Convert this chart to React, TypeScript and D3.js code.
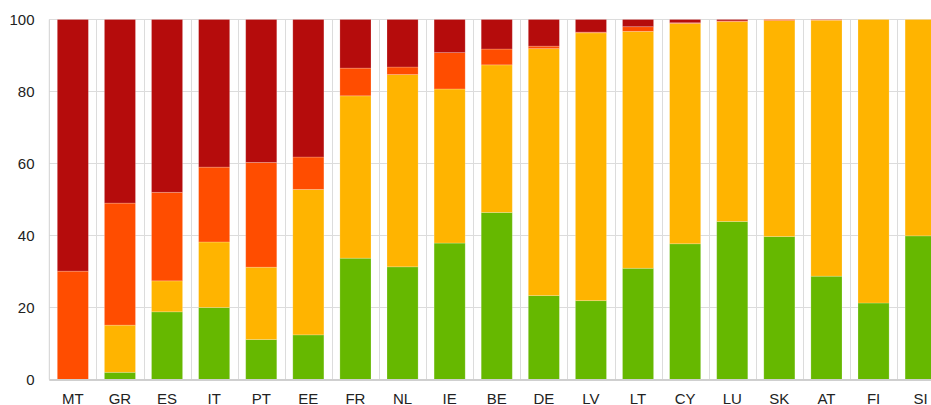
import React from "react";
import * as d3 from "d3";

const categories = ["MT","GR","ES","IT","PT","EE","FR","NL","IE","BE","DE","LV","LT","CY","LU","SK","AT","FI","SI"];
const green =  [0, 2.0, 18.8, 20.0, 11.1, 12.4, 33.7, 31.3, 37.9, 46.4, 23.3, 21.9, 30.9, 37.7, 43.9, 39.7, 28.7, 21.25, 39.9];
const yellow = [0, 13.1, 8.6, 18.2, 20.1, 40.4, 45.1, 53.4, 42.8, 41.0, 68.6, 74.4, 65.8, 61.2, 55.5, 60.0, 71.1, 78.75, 60.1];
const orange = [30.1, 33.9, 24.6, 20.8, 29.1, 9.0, 7.7, 2.1, 10.1, 4.4, 0.7, 0.2, 1.3, 0.2, 0.2, 0.3, 0.1, 0, 0];
const red =    [69.9, 51.0, 48.0, 41.0, 39.7, 38.2, 13.5, 13.2, 9.2, 8.2, 7.4, 3.5, 2.0, 0.9, 0.4, 0, 0.1, 0, 0];
const yTicks = [0, 20, 40, 60, 80, 100];

const seriesKeys = ["green", "yellow", "orange", "red"];
const colors: Record<string, string> = {
  green: "#66b800",
  yellow: "#ffb400",
  orange: "#ff4d00",
  red: "#b50c0c",
};

const W = 931, H = 405;
const left = 49.3, top = 19.5, bottom = 379.5;
const bandStep = 47.1;

export default function App() {
  const rows = categories.map((c, i) => ({ cat: c, green: green[i], yellow: yellow[i], orange: orange[i], red: red[i] }));
  const stack = d3.stack<any>().keys(seriesKeys)(rows);
  const x = d3.scaleBand().domain(categories).range([left, left + bandStep * categories.length]).paddingInner(0.34).paddingOuter(0.17);
  const y = d3.scaleLinear().domain([0, 100]).range([bottom, top]);
  const font = "'Liberation Sans', Arial, sans-serif";
  return (
    <svg width={W} height={H} style={{ position: "absolute", left: 0, top: 0, background: "#fff" }}>
      <g>
        {yTicks.map((t) => (
          <line key={"h" + t} x1={left} x2={W} y1={y(t)} y2={y(t)} stroke="#dcdcdc" strokeWidth={1} />
        ))}
        {categories.map((c, i) => {
          const xx = Math.round(left + bandStep * (i + 1)) + 0.5;
          return <line key={"v" + c} x1={xx} x2={xx} y1={top} y2={bottom} stroke="#dcdcdc" strokeWidth={1} />;
        })}
        <line x1={left} x2={left} y1={top} y2={bottom} stroke="#d0d0d0" strokeWidth={1} />
      </g>
      {stack.map((s) => (
        <g key={s.key} fill={colors[s.key]}>
          {s.map((d, i) => {
            const h = y(d[0]) - y(d[1]);
            if (h <= 0) return null;
            return (
              <rect key={i} x={x(categories[i])} width={x.bandwidth()} y={y(d[1])} height={h}
                stroke="#ffffff" strokeOpacity={0.25} strokeWidth={0.8} />
            );
          })}
        </g>
      ))}
      <line x1={left} x2={W} y1={bottom + 0.5} y2={bottom + 0.5} stroke="#cfcfcf" strokeWidth={2} />
      {yTicks.map((t) => (
        <text key={"yt" + t} x={34.5} y={y(t)} dy="0.35em" textAnchor="end" fontFamily={font} fontSize={15} fill="#222">{t}</text>
      ))}
      {categories.map((c) => (
        <text key={"xt" + c} x={(x(c) as number) + x.bandwidth() / 2} y={403.5} textAnchor="middle" fontFamily={font} fontSize={15} fill="#222">{c}</text>
      ))}
    </svg>
  );
}
